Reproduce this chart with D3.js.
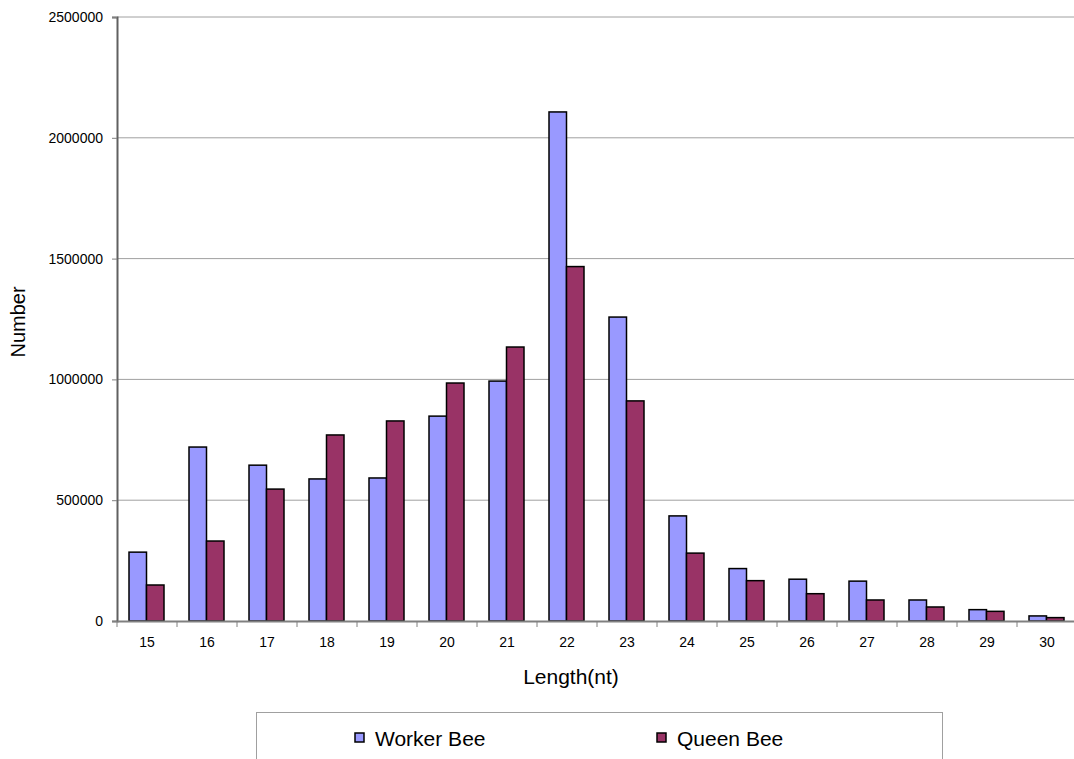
<!DOCTYPE html>
<html><head><meta charset="utf-8">
<script src="https://cdn.jsdelivr.net/npm/d3@7"></script>
<style>body{margin:0;background:#fff;}svg{display:block;font-family:"Liberation Sans",Arial,sans-serif;}</style>
</head><body>
<svg id="c" width="1074" height="759"></svg>
<script>
const categories = ["15","16","17","18","19","20","21","22","23","24","25","26","27","28","29","30"];
const workerBee = [285000,720000,645000,588000,592000,848000,993000,2107000,1258000,435000,217000,173000,165000,87000,47000,21000];
const queenBee  = [149000,331000,546000,770000,828000,985000,1134000,1467000,911000,281000,167000,113000,87000,58000,40000,14000];
const yTicks = [0,500000,1000000,1500000,2000000,2500000];
const seriesNames = ["Worker Bee","Queen Bee"];
const colors = ["#9999FF","#993366"];

const svg = d3.select("#c");
const L = 117, R = 1077, T = 17, B = 621;
const x = d3.scaleBand().domain(categories).range([L, R]).paddingInner(0).paddingOuter(0);
const y = d3.scaleLinear().domain([0, 2500000]).range([B, T]);
const inner = d3.scaleBand().domain([0,1]).range([12, 47]);

// gridlines
svg.append("g").selectAll("line").data(yTicks.filter(d => d > 0)).join("line")
  .attr("x1", L).attr("x2", 1074).attr("y1", d => y(d)).attr("y2", d => y(d))
  .attr("stroke", "#a0a0a0").attr("stroke-width", 1);

// bars
const series = [workerBee, queenBee];
series.forEach((vals, si) => {
  svg.append("g").selectAll("rect").data(vals).join("rect")
    .attr("x", (d, i) => x(categories[i]) + inner(si))
    .attr("y", d => y(d))
    .attr("width", inner.bandwidth())
    .attr("height", d => B - y(d))
    .attr("fill", colors[si]).attr("stroke", "#000").attr("stroke-width", 1.5);
});

// y axis
const ya = svg.append("g").attr("transform", `translate(${L},0)`)
  .call(d3.axisLeft(y).tickValues(yTicks).tickSize(5).tickPadding(9).tickFormat(d3.format("d")));
ya.select(".domain").attr("stroke", "#606060").attr("stroke-width", 2);
ya.selectAll(".tick line").attr("stroke", "#808080");
ya.selectAll("text").attr("font-size", 14).attr("fill", "#000");

// x axis
const xa = svg.append("g").attr("transform", `translate(0,${B})`)
  .call(d3.axisBottom(x).tickSize(0).tickPadding(16));
xa.select(".domain").attr("stroke", "#808080").attr("stroke-width", 2);
xa.selectAll("text").attr("font-size", 14).attr("fill", "#000");
// boundary ticks
svg.append("g").selectAll("line").data(categories).join("line")
  .attr("x1", d => x(d)).attr("x2", d => x(d)).attr("y1", B).attr("y2", B + 6)
  .attr("stroke", "#808080").attr("stroke-width", 1);

// axis titles
svg.append("text").attr("x", 571).attr("y", 684).attr("text-anchor", "middle")
  .attr("font-size", 21).text("Length(nt)");
svg.append("text").attr("transform", "translate(25,322) rotate(-90)").attr("text-anchor", "middle")
  .attr("font-size", 20).text("Number");

// legend
svg.append("rect").attr("x", 256.5).attr("y", 712.5).attr("width", 686).attr("height", 60)
  .attr("fill", "none").attr("stroke", "#a0a0a0").attr("stroke-width", 1);
const lx = [355, 657];
seriesNames.forEach((n, i) => {
  svg.append("rect").attr("x", lx[i]).attr("y", 733).attr("width", 9).attr("height", 9)
    .attr("fill", colors[i]).attr("stroke", "#000").attr("stroke-width", 1.5);
  svg.append("text").attr("x", lx[i] + 20).attr("y", 746).attr("font-size", 21).text(n);
});
</script>
</body></html>
